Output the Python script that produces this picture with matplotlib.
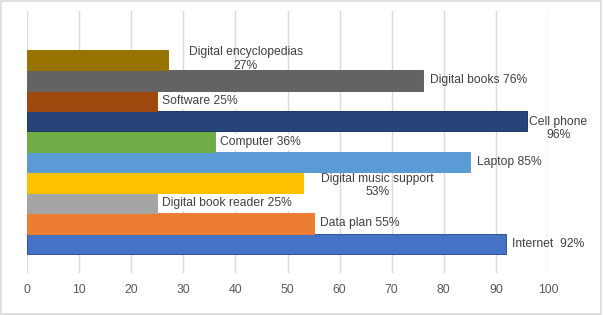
import matplotlib
matplotlib.use('Agg')
import matplotlib.pyplot as plt
from matplotlib.patches import Rectangle

# bottom to top
categories = ['Internet', 'Data plan', 'Digital book reader', 'Digital music support',
              'Laptop', 'Computer', 'Cell phone', 'Software', 'Digital books',
              'Digital encyclopedias']
values = [92, 55, 25, 53, 85, 36, 96, 25, 76, 27]
labels = ['Internet  92%', 'Data plan 55%', 'Digital book reader 25%',
          'Digital music support\n53%', 'Laptop 85%', 'Computer 36%',
          'Cell phone\n96%', 'Software 25%', 'Digital books 76%',
          'Digital encyclopedias\n27%']
colors = ['#4472C4', '#ED7D31', '#A5A5A5', '#FFC000', '#5B9BD5', '#70AD47',
          '#264478', '#9E480E', '#636363', '#997300']
edges = ['#2F5597', '#ED7D31', '#A5A5A5', '#FFC000', '#5B9BD5', '#70AD47',
         '#1F3864', '#9E480E', '#636363', '#997300']
x_ticks = [0, 10, 20, 30, 40, 50, 60, 70, 80, 90, 100]

# label layout: (x offset in px from bar end, y offset px, ha, white box)
label_layout = [(6, 0, 'left', False), (6, 0, 'left', False), (5, 0, 'left', True),
                (74, -3, 'center', False), (7, 0, 'left', False), (5, 0, 'left', True),
                (31, -7, 'center', False), (5, 0, 'left', True), (7, 0, 'left', False),
                (78, 1, 'center', False)]

plt.rcParams['font.family'] = ['Liberation Sans', 'DejaVu Sans']

fig = plt.figure(figsize=(6.03, 3.15), dpi=100)
fig.patches.append(Rectangle((0.002, 0.004), 0.995, 0.992, transform=fig.transFigure,
                             fill=False, edgecolor='#D9D9D9', linewidth=1.2))
ax = fig.add_axes([27 / 603, 1 - 273 / 315, 521 / 603, 262 / 315])

pos = list(range(len(categories)))
ax.barh(pos, values, height=1.0, color=colors, edgecolor=edges, linewidth=0.7, zorder=2)

for p, v, lab, (dx, dy, ha, box) in zip(pos, values, labels, label_layout):
    bbox = dict(facecolor='white', edgecolor='none', pad=1.5) if box else None
    ax.annotate(lab, xy=(v, p), xytext=(dx * 0.72, dy * 0.72), textcoords='offset points',
                ha=ha, va='center', fontsize=8.7, color='#404040', linespacing=1.15,
                bbox=bbox, zorder=3)

ax.set_xlim(0, 100)
ax.set_ylim(-1.43, 11.4)
ax.set_xticks(x_ticks)
ax.set_xticklabels([str(t) for t in x_ticks])
ax.set_yticks([])
ax.tick_params(axis='x', length=0, pad=8, labelsize=8.7, labelcolor='#595959')
ax.grid(axis='x', color='#D9D9D9', linewidth=1.0, zorder=0)
ax.set_axisbelow(True)
for s in ax.spines.values():
    s.set_visible(False)

fig.savefig('out.png', dpi=100)
